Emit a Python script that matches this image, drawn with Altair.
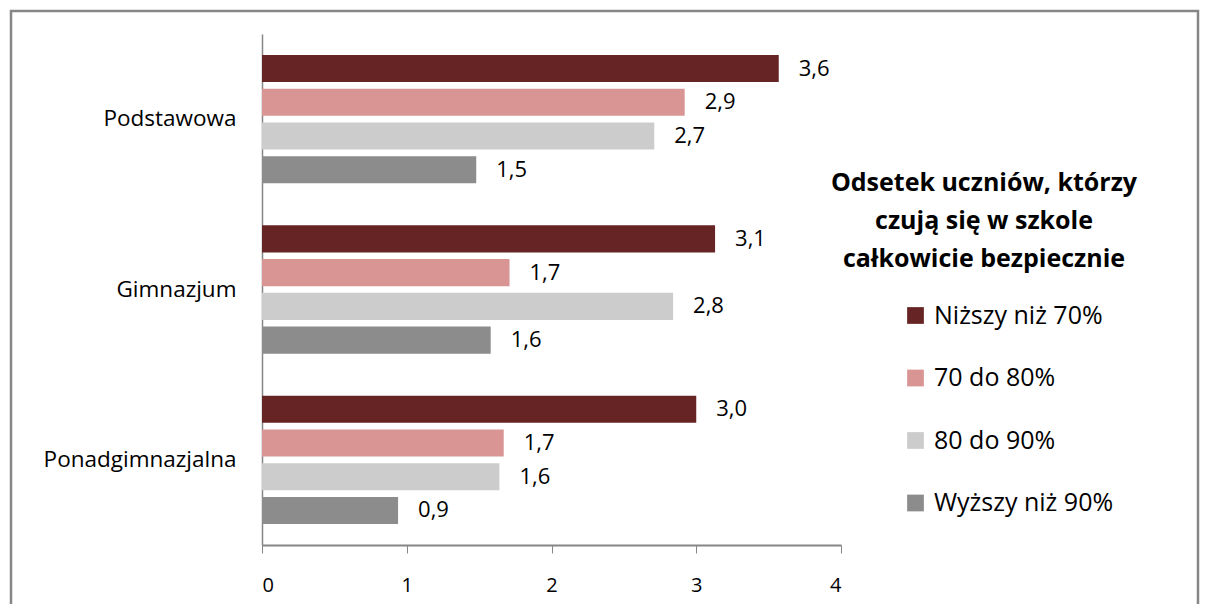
import altair as alt
import pandas as pd

categories = ["Podstawowa", "Gimnazjum", "Ponadgimnazjalna"]
series = ["Niższy niż 70%", "70 do 80%", "80 do 90%", "Wyższy niż 90%"]
values = {
    "Niższy niż 70%": [3.57, 3.13, 3.00],
    "70 do 80%": [2.92, 1.71, 1.67],
    "80 do 90%": [2.71, 2.84, 1.64],
    "Wyższy niż 90%": [1.48, 1.58, 0.94],
}
colors = ["#662425", "#d99594", "#cccccc", "#8c8c8c"]
legend_title = "Odsetek uczniów, którzy\nczują się w szkole\ncałkowicie bezpiecznie"

rows = []
for s in series:
    for c, v in zip(categories, values[s]):
        rows.append({"kategoria": c, "seria": s, "wartosc": v})
df = pd.DataFrame(rows)

W, H = 579, 511
FONT = "Open Sans"

y_enc = alt.Y("kategoria:N", sort=categories, title=None,
              scale=alt.Scale(paddingInner=0.247, paddingOuter=0.1235),
              axis=alt.Axis(labelFontSize=22.5, labelColor="#000000", labelPadding=26,
                            ticks=False, domainColor="#868686", domainWidth=1.5,
                            labelFont=FONT, labelLimit=300))
yoff = alt.YOffset("seria:N", sort=series,
                   scale=alt.Scale(paddingInner=0.198, paddingOuter=0))
x_enc = alt.X("wartosc:Q", title=None,
              scale=alt.Scale(domain=[0, 4], nice=False),
              axis=alt.Axis(values=[0, 1, 2, 3, 4], format="d", grid=False,
                            labelFontSize=20, labelColor="#000000", labelPadding=22,
                            tickSize=8, tickColor="#868686", domainColor="#868686",
                            domainWidth=2, labelFont=FONT))

bars = alt.Chart(df).mark_bar().encode(
    x=x_enc, y=y_enc, yOffset=yoff,
    color=alt.Color("seria:N", sort=series,
                    scale=alt.Scale(domain=series, range=colors),
                    legend=alt.Legend(title=None, orient="none", legendX=641, legendY=269,
                                      symbolType="square", symbolSize=280,
                                      symbolStrokeWidth=0,
                                      labelFontSize=25, labelFont=FONT,
                                      labelColor="#000000", rowPadding=36.5,
                                      labelOffset=6, labelLimit=400))
)

texts = alt.Chart(df).transform_calculate(
    lab="replace(format(datum.wartosc, '.1f'), '.', ',')"
).mark_text(align="left", baseline="middle", dx=20, fontSize=22,
            color="#000000", font=FONT).encode(
    x="wartosc:Q", y=alt.Y("kategoria:N", sort=categories), yOffset=yoff,
    text="lab:N"
)

title_df = pd.DataFrame({"t": [legend_title]})
title_txt = alt.Chart(title_df).mark_text(
    align="center", baseline="middle", fontSize=25, fontWeight="bold",
    lineBreak="\n", lineHeight=38, font=FONT, color="#000000"
).encode(x=alt.value(722), y=alt.value(149), text="t:N")

frame = alt.Chart(title_df).mark_rect(
    fill=None, stroke="#868686", strokeWidth=2.5, clip=False
).encode(x=alt.value(-251), x2=alt.value(936), y=alt.value(-23), y2=alt.value(600))

chart = alt.layer(frame, bars, texts, title_txt).properties(
    width=W, height=H,
    autosize=alt.AutoSizeParams(type="none"),
    padding={"left": 262, "top": 34, "right": 367, "bottom": 59},
    background="white"
).configure(font=FONT).configure_view(stroke=None)

chart.save("out.html", embed_options={"renderer": "svg", "actions": False})
